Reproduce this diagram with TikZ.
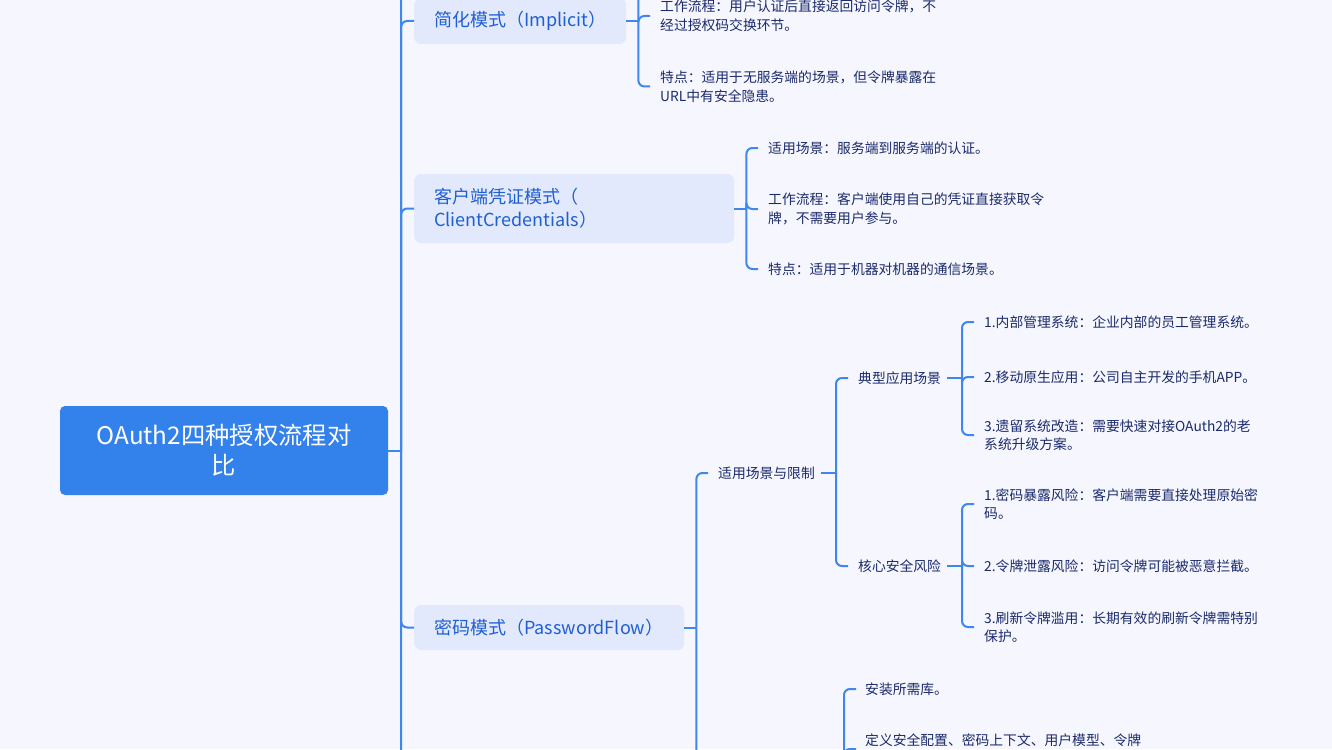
\documentclass[tikz,border=0pt]{standalone}
\usepackage{fontspec}
\setmainfont{Noto Sans CJK SC}
\usetikzlibrary{calc}
\definecolor{bg}{HTML}{F5F6FE}
\definecolor{rootc}{HTML}{3381EB}
\definecolor{l1fill}{HTML}{E2E9FC}
\definecolor{l1text}{HTML}{1F5FD3}
\definecolor{linec}{HTML}{3D87EF}
\definecolor{leaftext}{HTML}{1B2A6B}
\begin{document}
\begin{tikzpicture}[x=1pt,y=-1pt,
  conn/.style={draw=linec, line width=2pt, rounded corners=6pt},
  rootbox/.style={fill=rootc, rounded corners=5pt, text=white, font=\fontsize{24.3}{30}\selectfont, align=center, minimum width=328pt, minimum height=89pt, inner sep=0pt},
  l1box/.style={fill=l1fill, rounded corners=7pt, text=l1text, font=\fontsize{18}{23}\selectfont, align=left, inner xsep=20pt, inner ysep=0pt, anchor=west},
  leaf/.style={text=leaftext, font=\fontsize{13.8}{18.5}\selectfont, align=left, inner sep=0pt, anchor=west},
]
\useasboundingbox (0,0) rectangle (1332,749);
\clip (0,0) rectangle (1332,749);
\fill[bg] (0,0) rectangle (1332,749);

% root
\node[rootbox] (root) at (224,450.5) {OAuth2四种授权流程对\\比};

% level 1
\node[l1box, text width=172pt, minimum height=46pt] (impl) at (414,21) {简化模式（Implicit）};
\node[l1box, text width=280pt, minimum height=69pt] (cc) at (414,208.5) {客户端凭证模式（\\ClientCredentials）};
\node[l1box, text width=230pt, minimum height=45pt] (pw) at (414,627.5) {密码模式（PasswordFlow）};
\coordinate (rTop) at (414,-300);
\coordinate (rBot) at (414,1000);

% implicit children
\coordinate (implA) at (660,-40);
\node[leaf] (impl2) at (660,16) {工作流程：用户认证后直接返回访问令牌，不\\经过授权码交换环节。};
\node[leaf] (impl3) at (660,86.5) {特点：适用于无服务端的场景，但令牌暴露在\\URL中有安全隐患。};

% client credentials children
\node[leaf] (cc1) at (768,148) {适用场景：服务端到服务端的认证。};
\node[leaf] (cc2) at (768,209) {工作流程：客户端使用自己的凭证直接获取令\\牌，不需要用户参与。};
\node[leaf] (cc3) at (768,269) {特点：适用于机器对机器的通信场景。};

% password children
\node[leaf] (pw1) at (718,473) {适用场景与限制};
\coordinate (pwB) at (718,900);
\node[leaf] (t1) at (858,378) {典型应用场景};
\node[leaf] (t2) at (858,566) {核心安全风险};
\node[leaf] (a1) at (984,322) {1.内部管理系统：企业内部的员工管理系统。};
\node[leaf] (a2) at (984,377) {2.移动原生应用：公司自主开发的手机APP。};
\node[leaf] (a3) at (984,435) {3.遗留系统改造：需要快速对接OAuth2的老\\系统升级方案。};
\node[leaf] (b1) at (984,504) {1.密码暴露风险：客户端需要直接处理原始密\\码。};
\node[leaf] (b2) at (984,566) {2.令牌泄露风险：访问令牌可能被恶意拦截。};
\node[leaf] (b3) at (984,627) {3.刷新令牌滥用：长期有效的刷新令牌需特别\\保护。};
\node[leaf] (d1) at (865,689) {安装所需库。};
\node[leaf] (d2) at (865,740) {定义安全配置、密码上下文、用户模型、令牌};
\coordinate (d2c) at (865,749);
\coordinate (dJ) at (844,820);

% connectors: root
\coordinate (rJ) at ($(root.east)+(13,0)$);
\draw[conn] (root.east) -- (rJ);
\foreach \c in {rTop,impl,cc,pw,rBot} \draw[conn] (rJ) |- (\c.west);

% implicit
\coordinate (iJ) at ($(impl.east)+(12,0)$);
\draw[conn] (impl.east) -- (iJ);
\draw[conn] (iJ) |- ([xshift=-10pt]implA);
\foreach \c in {impl2,impl3} \draw[conn] (iJ) |- ([xshift=-10pt]\c.west);

% client credentials
\coordinate (cJ) at ($(cc.east)+(12,0)$);
\draw[conn] (cc.east) -- (cJ);
\foreach \c in {cc1,cc2,cc3} \draw[conn] (cJ) |- ([xshift=-10pt]\c.west);

% password
\coordinate (pJ) at ($(pw.east)+(12,0)$);
\draw[conn] (pw.east) -- (pJ);
\draw[conn] (pJ) |- ([xshift=-10pt]pw1.west);
\draw[conn] (pJ) |- ([xshift=-10pt]pwB);

\coordinate (p1J) at ($(pw1.east -| t1.west)+(-22,0)$);
\draw[conn] ([xshift=6pt]pw1.east) -- (p1J);
\foreach \c in {t1,t2} \draw[conn] (p1J) |- ([xshift=-10pt]\c.west);

\coordinate (t1J) at ($(t1.east -| a1.west)+(-22,0)$);
\draw[conn] ([xshift=6pt]t1.east) -- (t1J);
\foreach \c in {a1,a2,a3} \draw[conn] (t1J) |- ([xshift=-10pt]\c.west);

\coordinate (t2J) at ($(t2.east -| b1.west)+(-22,0)$);
\draw[conn] ([xshift=6pt]t2.east) -- (t2J);
\foreach \c in {b1,b2,b3} \draw[conn] (t2J) |- ([xshift=-10pt]\c.west);

\draw[conn] (dJ) |- ([xshift=-9pt]d1.west);
\draw[conn] (dJ) |- ([xshift=-9pt]d2c);
\end{tikzpicture}
\end{document}
